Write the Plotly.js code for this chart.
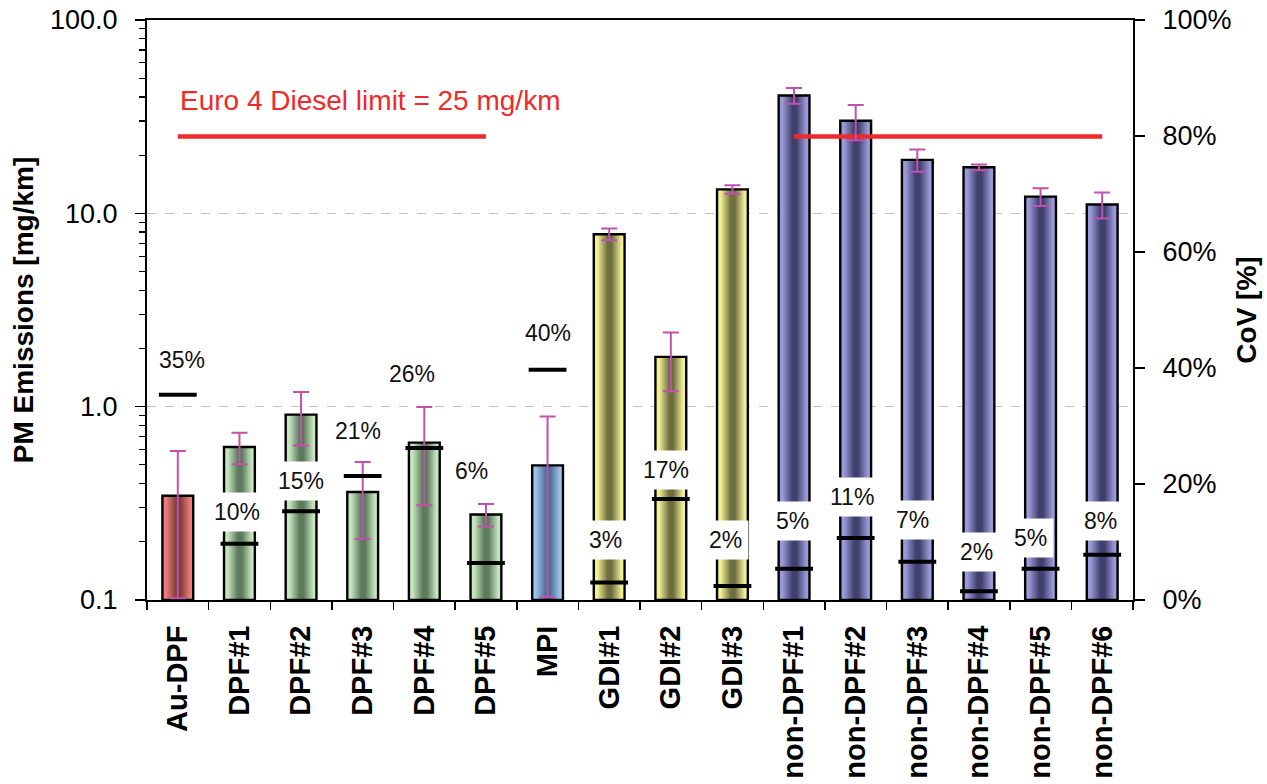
<!DOCTYPE html>
<html><head><meta charset="utf-8">
<script src="https://cdn.plot.ly/plotly-3.0.1.min.js"></script>
<style>html,body{margin:0;padding:0;background:#fff}#chart{width:1267px;height:784px}</style>
</head><body><div id="chart"></div>
<script>
// ---------- data ----------
const categories = ['Au-DPF','DPF#1','DPF#2','DPF#3','DPF#4','DPF#5','MPI','GDI#1','GDI#2','GDI#3',
  'non-DPF#1','non-DPF#2','non-DPF#3','non-DPF#4','non-DPF#5','non-DPF#6'];
const groups = ['Au-DPF','DPF','DPF','DPF','DPF','DPF','MPI','GDI','GDI','GDI',
  'non-DPF','non-DPF','non-DPF','non-DPF','non-DPF','non-DPF'];
const pmValues = [0.346,0.619,0.91,0.362,0.652,0.277,0.497,7.8,1.81,13.3,40.7,30.1,18.9,17.3,12.2,11.1];
const pmStdDev = [0.244,0.115,0.28,0.155,0.343,0.037,0.393,0.55,0.61,0.68,3.8,6.2,2.5,0.6,1.3,1.7];
const covValues = [35.4,9.7,15.3,21.4,26.2,6.4,39.7,3.0,17.4,2.4,5.4,10.7,6.6,1.5,5.4,7.8];
const limitValues = [25,25,25,25,25,25,null,null,null,null,25,25,25,25,25,25];
const limitLabel = 'Euro 4 Diesel limit = 25 mg/km';
const yTitle = 'PM Emissions [mg/km]';
const y2Title = 'CoV [%]';

// ---------- styles ----------
const FONT = 'Liberation Sans, Arial, Helvetica, sans-serif';
const RED = '#ee2a2a';
const ERR = '#c052ad';
const groupColors = {
  'Au-DPF': ['#ec7c78', '#7e3c3a'],
  'DPF': ['#c6e6c0', '#5c7a5c'],
  'MPI': ['#9cc2ea', '#4a6e96'],
  'GDI': ['#f2f096', '#6e6e40'],
  'non-DPF': ['#9a9ad8', '#40406e']
};
const halfWidth = 0.25;
const yBase = 0.1;
// label offsets in pixels (layout)
const labelShiftY = [35,32,30,45,74,92,37,43,29,46,48,41,42,39,31,34];
const labelShiftX = [4,-2,0,-5,-12,-14,0,-4,-5,-7,-2,-4,-5,-2,-10,-2];

const idx = categories.map((_, i) => i);
const traces = [];

// bars as gradient-filled shapes through the data axes
pmValues.forEach((v, i) => {
  const [light, dark] = groupColors[groups[i]];
  traces.push({
    type: 'scatter', mode: 'lines', hoverinfo: 'skip', showlegend: false,
    x: [i - halfWidth, i - halfWidth, i + halfWidth, i + halfWidth, i - halfWidth],
    y: [yBase, v, v, yBase, yBase],
    fill: 'toself',
    fillcolor: light,
    fillgradient: {type: 'horizontal', colorscale: [[0, light], [0.12, light], [0.45, dark], [0.58, dark], [0.9, light], [1, light]]},
    line: {color: '#000', width: 2.4}
  });
});

// Euro 4 limit line
traces.push({
  type: 'scatter', mode: 'lines', x: idx, y: limitValues, connectgaps: false,
  line: {color: RED, width: 4.5}, hoverinfo: 'skip', showlegend: false
});

// error bars
traces.push({
  type: 'scatter', mode: 'markers', x: idx, y: pmValues,
  marker: {size: 1, opacity: 0}, showlegend: false,
  error_y: {type: 'data', array: pmStdDev, symmetric: true, color: ERR, thickness: 2, width: 8}
});

// CoV markers
traces.push({
  type: 'scatter', mode: 'markers', x: idx, y: covValues, yaxis: 'y2',
  marker: {symbol: 'line-ew', size: 27, line: {color: '#000', width: 4}}, showlegend: false
});

const annotations = covValues.map((c, i) => ({
  x: i, y: c, xref: 'x', yref: 'y2', text: Math.round(c) + '%', showarrow: false,
  bgcolor: '#ffffff', borderpad: 6, font: {family: FONT, size: 23, color: '#111'},
  yshift: labelShiftY[i], xshift: labelShiftX[i], xanchor: 'center', yanchor: 'middle'
}));
annotations.push({
  x: 0.0314, y: 0.862, xref: 'paper', yref: 'paper', xanchor: 'left', yanchor: 'middle',
  text: limitLabel, showarrow: false, font: {family: FONT, size: 28, color: RED}
});

const layout = {
  width: 1267, height: 784,
  margin: {l: 147, r: 134, t: 20, b: 184},
  paper_bgcolor: '#fff', plot_bgcolor: '#fff',
  showlegend: false,
  font: {family: FONT, color: '#000'},
  xaxis: {
    range: [-0.5, 15.5], tickmode: 'array', tickvals: idx, ticktext: categories,
    tickangle: -90, ticks: '', showline: true, linecolor: '#000', linewidth: 2, mirror: true,
    showgrid: false, zeroline: false, ticklabelstandoff: 12,
    tickfont: {family: FONT, size: 29, weight: 700, color: '#000'},
    minor: {tickmode: 'linear', tick0: 0.5, dtick: 1, ticks: 'outside', ticklen: 8, tickcolor: '#000', tickwidth: 1.5, showgrid: false}
  },
  yaxis: {
    type: 'log', range: [-1, 2], dtick: 1, tickformat: '.1f',
    ticks: 'outside', ticklen: 10, tickwidth: 1.5, tickcolor: '#000',
    showline: true, linecolor: '#000', linewidth: 2, zeroline: false,
    showgrid: true, gridcolor: '#c4c4c4', griddash: 'dash', gridwidth: 1,
    minor: {dtick: 'D1', ticks: 'outside', ticklen: 6, tickcolor: '#000', tickwidth: 1.2, showgrid: false},
    tickfont: {family: FONT, size: 27, color: '#000'}, ticklabelstandoff: 12,
    title: {text: yTitle, font: {family: FONT, size: 28, weight: 700, color: '#000'}, standoff: 8}
  },
  yaxis2: {
    overlaying: 'y', side: 'right', range: [0, 100], dtick: 20, ticksuffix: '%',
    ticks: 'outside', ticklen: 10, tickwidth: 1.5, tickcolor: '#000',
    showline: true, linecolor: '#000', linewidth: 2, showgrid: false, zeroline: false,
    tickfont: {family: FONT, size: 27, color: '#000'}, ticklabelstandoff: 12,
    title: {text: y2Title, font: {family: FONT, size: 28, weight: 700, color: '#000'}, standoff: 6}
  },
  annotations: annotations
};

Plotly.newPlot('chart', traces, layout, {displayModeBar: false, staticPlot: true});
</script>
</body></html>
